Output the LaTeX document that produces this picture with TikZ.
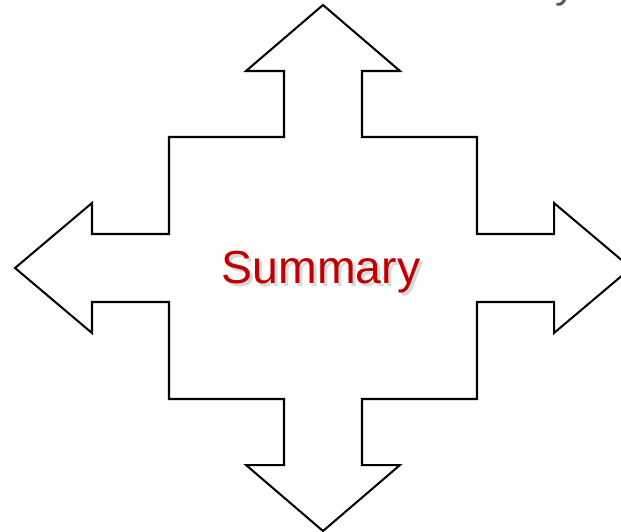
\documentclass[tikz,border=0pt]{standalone}
\usepackage{fontspec}
\setmainfont{Liberation Sans}
\usepackage{xcolor}
\definecolor{sumred}{HTML}{C00000}
\definecolor{titlegrey}{HTML}{595959}

\begin{document}
\begin{tikzpicture}[x=0.02cm,y=-0.02cm,line width=1.15pt,
  every node/.style={font=\fontsize{26.4}{30}\selectfont,inner sep=0pt}]
\useasboundingbox (0,0) rectangle (621,531);
\clip (0,0) rectangle (621,531);
% four-way arrow
\draw[line join=miter] (323,5)--(400,71)--(362,71)--(362,137)--(477,137)--(477,234)
  --(554,234)--(554,203)--(631,268)--(554,333)--(554,302)--(477,302)--(477,399)
  --(362,399)--(362,465)--(400,465)--(323,531)--(246,465)--(284,465)--(284,399)
  --(169,399)--(169,302)--(92,302)--(92,333)--(15,268)--(92,203)--(92,234)
  --(169,234)--(169,137)--(284,137)--(284,71)--(246,71)--cycle;
% label with shadow
\node[anchor=base,text=gray!50,opacity=0.6] at(324,286)(shadow){Summary};
\node[anchor=base,text=sumred] at(321,283.5)(summary){Summary};
% cut-off title
\node[anchor=base,text=titlegrey,font=\fontsize{24}{28}\selectfont] at(566,-3)(title){y};
\end{tikzpicture}
\end{document}
